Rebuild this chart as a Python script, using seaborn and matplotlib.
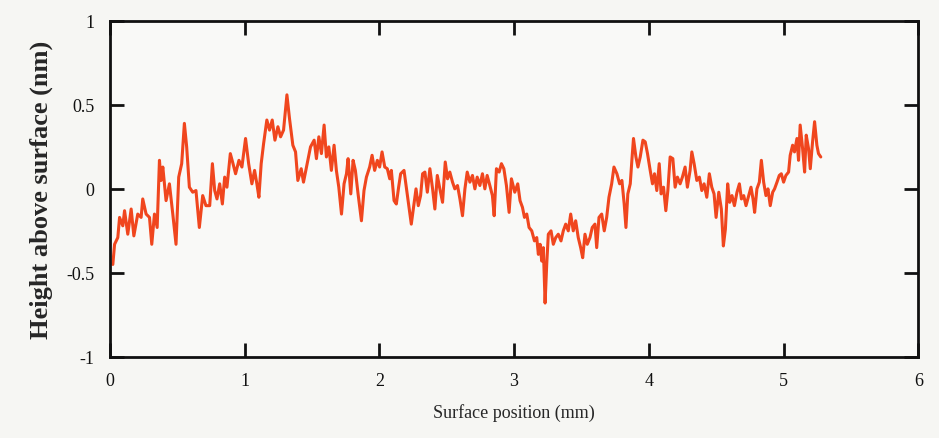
import numpy as np
import pandas as pd
import matplotlib
matplotlib.use("Agg")
import matplotlib.pyplot as plt
import seaborn as sns

# surface profile (mm, nm)
position_mm = [
    0.022, 0.035, 0.059, 0.072, 0.096, 0.109, 0.133, 0.158, 0.178, 0.207,
    0.232, 0.244, 0.269, 0.294, 0.311, 0.331, 0.351, 0.368, 0.380, 0.393,
    0.417, 0.442, 0.467, 0.491, 0.511, 0.533, 0.553, 0.570, 0.590, 0.615,
    0.639, 0.664, 0.689, 0.713,
    0.741, 0.761, 0.778, 0.795, 0.815, 0.835, 0.852, 0.869, 0.894, 0.914,
    0.933, 0.958, 0.980, 1.007, 1.030, 1.054, 1.074, 1.091, 1.106, 1.123,
    1.141, 1.165, 1.185, 1.205, 1.225, 1.247, 1.267, 1.289, 1.314, 1.333,
    1.358, 1.378, 1.395, 1.420, 1.437, 1.462, 1.489,
    1.516, 1.533, 1.551, 1.570, 1.590, 1.607, 1.625, 1.644, 1.664, 1.681,
    1.699, 1.719, 1.738, 1.756, 1.768, 1.788, 1.805, 1.822, 1.842, 1.867,
    1.886, 1.904, 1.928, 1.946, 1.965, 1.985, 2.002, 2.020, 2.040, 2.059,
    2.077, 2.089, 2.109, 2.126, 2.143, 2.158, 2.183, 2.200, 2.217, 2.237,
    2.272, 2.289, 2.306, 2.321, 2.338, 2.356, 2.375, 2.395, 2.412, 2.430,
    2.449, 2.469, 2.489, 2.506, 2.523, 2.543, 2.560, 2.580, 2.598, 2.617,
    2.635, 2.652, 2.672, 2.691, 2.709, 2.726, 2.746, 2.765, 2.783, 2.800,
    2.820, 2.839, 2.852, 2.869, 2.889, 2.906, 2.924, 2.943, 2.963, 2.980,
    3.005,
    3.027, 3.044, 3.062, 3.077, 3.094, 3.111, 3.131, 3.151, 3.168, 3.180,
    3.193, 3.205, 3.217, 3.230, 3.242, 3.254, 3.274, 3.291, 3.309, 3.328,
    3.348, 3.365, 3.383, 3.402, 3.420, 3.439, 3.457, 3.476, 3.494, 3.509,
    3.526, 3.543, 3.563, 3.580, 3.600, 3.613, 3.630, 3.650, 3.669, 3.687,
    3.704, 3.724, 3.741,
    3.763, 3.783, 3.800, 3.817, 3.830, 3.844, 3.862, 3.874, 3.886, 3.904,
    3.919, 3.936, 3.956, 3.973, 3.990, 4.010, 4.027, 4.042, 4.059, 4.077,
    4.091, 4.109, 4.126, 4.141, 4.158, 4.178, 4.195, 4.212, 4.232, 4.249,
    4.269, 4.286, 4.306, 4.319, 4.336, 4.356, 4.375, 4.393, 4.410, 4.430,
    4.449, 4.467, 4.484, 4.499,
    4.519, 4.538, 4.553, 4.568, 4.585, 4.600, 4.617, 4.635, 4.654, 4.672,
    4.687, 4.704, 4.721, 4.741, 4.758, 4.773, 4.785, 4.802, 4.820, 4.835,
    4.852, 4.869, 4.884, 4.901, 4.919, 4.933, 4.951, 4.968, 4.983, 5.000,
    5.017, 5.037, 5.049, 5.067, 5.081, 5.099, 5.111, 5.123, 5.141, 5.156,
    5.168, 5.185, 5.198, 5.215, 5.230, 5.247, 5.259, 5.276,
]
height_nm = [
    -0.45, -0.33, -0.29, -0.17, -0.22, -0.13, -0.27, -0.12, -0.28, -0.15,
    -0.17, -0.06, -0.15, -0.17, -0.33, -0.15, -0.23, 0.17, 0.05, 0.13,
    -0.07, 0.03, -0.15, -0.33, 0.07, 0.15, 0.39, 0.25, 0.01, -0.02,
    -0.01, -0.23, -0.04, -0.10,
    -0.10, 0.15, -0.01, -0.06, 0.03, -0.09, 0.07, 0.01, 0.21, 0.15,
    0.09, 0.17, 0.13, 0.30, 0.15, 0.03, 0.11, 0.03, -0.05, 0.15,
    0.27, 0.41, 0.35, 0.41, 0.29, 0.37, 0.31, 0.35, 0.56, 0.42,
    0.26, 0.22, 0.05, 0.12, 0.04, 0.14, 0.25,
    0.29, 0.18, 0.31, 0.21, 0.38, 0.19, 0.25, 0.11, 0.26, 0.11,
    0.01, -0.15, 0.03, 0.09, 0.18, -0.03, 0.17, 0.11, -0.03, -0.19,
    -0.01, 0.07, 0.13, 0.20, 0.11, 0.17, 0.13, 0.22, 0.13, 0.12,
    0.06, 0.11, -0.07, -0.09, 0.01, 0.09, 0.11, 0.01, -0.09, -0.21,
    0.00, -0.10, -0.04, 0.09, 0.10, -0.02, 0.12, 0.00, -0.12, 0.08,
    0.00, -0.08, 0.16, 0.06, 0.10, 0.04, 0.00, 0.02, -0.06, -0.16,
    0.00, 0.10, 0.04, 0.08, 0.00, 0.07, 0.02, 0.09, 0.00, 0.08,
    0.02, -0.04, -0.16, 0.12, 0.10, 0.15, 0.12, 0.02, -0.14, 0.06,
    -0.02,
    0.03, -0.07, -0.11, -0.17, -0.15, -0.23, -0.25, -0.31, -0.29, -0.39,
    -0.33, -0.43, -0.35, -0.68, -0.45, -0.27, -0.25, -0.33, -0.29, -0.27,
    -0.31, -0.25, -0.21, -0.25, -0.15, -0.25, -0.19, -0.29, -0.35, -0.41,
    -0.27, -0.33, -0.29, -0.23, -0.21, -0.35, -0.17, -0.15, -0.25, -0.17,
    -0.05, 0.03, 0.13,
    0.09, 0.03, 0.05, -0.09, -0.23, -0.03, 0.03, 0.17, 0.30, 0.19,
    0.13, 0.19, 0.29, 0.28, 0.21, 0.11, 0.03, 0.09, -0.01, 0.15,
    -0.03, 0.01, -0.13, -0.01, 0.19, 0.18, 0.01, 0.07, 0.03, 0.07,
    0.13, 0.01, 0.11, 0.22, 0.15, 0.05, 0.07, -0.01, 0.03, -0.05,
    0.09, 0.01, -0.03, -0.17,
    -0.02, -0.12, -0.34, -0.24, 0.03, -0.08, -0.04, -0.10, -0.02, 0.03,
    -0.06, -0.04, -0.10, -0.04, 0.01, -0.06, -0.14, 0.00, 0.04, 0.17,
    0.04, -0.04, 0.00, -0.10, -0.02, 0.00, 0.04, 0.08, 0.09, 0.04,
    0.08, 0.10, 0.20, 0.26, 0.22, 0.30, 0.17, 0.38, 0.24, 0.10,
    0.32, 0.24, 0.12, 0.28, 0.40, 0.26, 0.21, 0.19,
]

x_ticks = [0, 1, 2, 3, 4, 5, 6]
y_ticks = [-1, -0.5, 0, 0.5, 1]
y_tick_labels = ["-1", "-0.5", "0", "0.5", "1"]

df = pd.DataFrame({"pos": position_mm, "h": height_nm})

sns.set_style("ticks")
plt.rcParams["font.family"] = ["Liberation Serif", "DejaVu Serif"]

fig = plt.figure(figsize=(9.39, 4.39), dpi=100, facecolor="#f6f6f3")
ax = fig.add_axes([0.117, 0.185, 0.861, 0.765])
ax.set_facecolor("#f9f9f7")

sns.lineplot(data=df, x="pos", y="h", color="#f0461e", linewidth=2.2,
             sort=False, estimator=None, ax=ax)

ax.set_xlim(0, 6)
ax.set_ylim(-1, 1)
ax.set_xticks(x_ticks)
ax.set_xticklabels([str(t) for t in x_ticks])
ax.set_yticks(y_ticks)
ax.set_yticklabels(y_tick_labels)

for s in ax.spines.values():
    s.set_linewidth(2.0)
    s.set_color("#111111")
ax.tick_params(direction="in", length=10, width=2, top=True, right=True,
               labelsize=13, pad=11, colors="#111111")

ax.set_xlabel("Surface position (mm)", fontsize=13, labelpad=10)
ax.set_ylabel("Height above surface (nm)", fontsize=19, labelpad=10,
              fontweight="semibold")

fig.savefig("out.png", dpi=100, facecolor=fig.get_facecolor())
